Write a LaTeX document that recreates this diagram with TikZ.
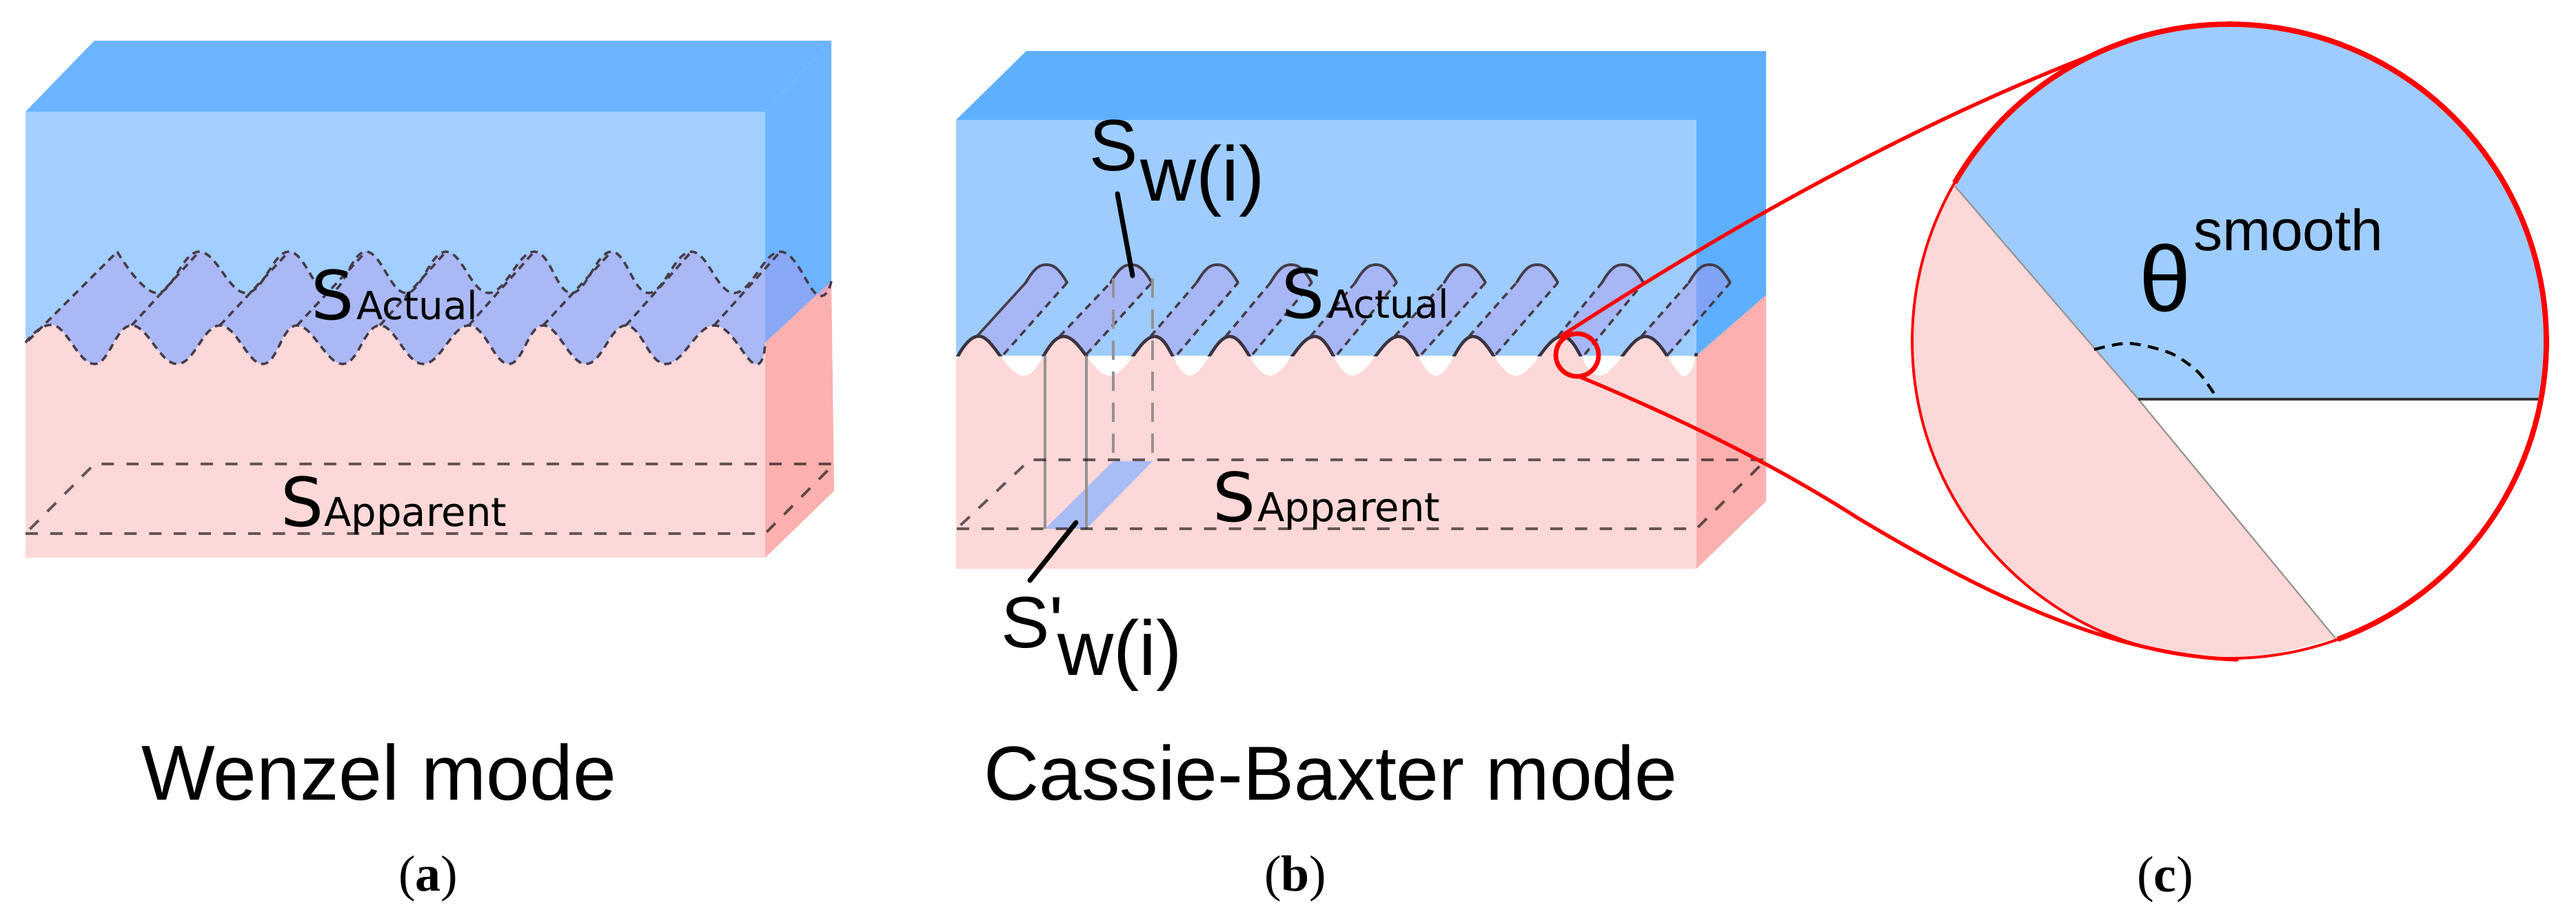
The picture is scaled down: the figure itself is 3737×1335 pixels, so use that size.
\documentclass[tikz,border=0pt]{standalone}
\usepackage{fontspec}
\setmainfont{Liberation Sans}
\newfontfamily\djv{DejaVu Sans}
\newfontfamily\tms{Liberation Serif}
\newfontfamily\plainsans{Liberation Sans}
\definecolor{frontA}{RGB}{162,207,255}
\definecolor{topA}{RGB}{108,180,255}
\definecolor{frontB}{RGB}{158,204,255}
\definecolor{topB}{RGB}{94,176,255}
\definecolor{pinkF}{RGB}{253,216,216}
\definecolor{pinkS}{RGB}{252,176,176}
\definecolor{bandC}{RGB}{184,145,228}
\definecolor{footC}{RGB}{168,188,245}
\definecolor{dashC}{RGB}{70,60,75}
\definecolor{guide}{RGB}{150,145,145}
\tikzset{
  x=0.01cm,y=-0.01cm,
  lab/.style={inner sep=0pt,outer sep=0pt,anchor=base west,text=black},
  planeD/.style={line width=1.1pt,draw=black,draw opacity=.6,dash pattern=on 5.1pt off 5.1pt},
  waveD/.style={line width=1pt,draw=dashC,dash pattern=on 3pt off 2.2pt},
  band/.style={fill=bandC,fill opacity=.37},
  redl/.style={line width=1.5pt,draw=red,line cap=round},
  leader/.style={line width=2pt,draw=black,line cap=round},
  guideS/.style={line width=1pt,draw=guide},
  guideD/.style={line width=1pt,draw=guide,dash pattern=on 8pt off 4.8pt},
}
\begin{document}
\begin{tikzpicture}
\useasboundingbox (0,0) rectangle (3737,1335);
% ---------- panel a
\fill[topA] (37,162) -- (137,59) -- (1206,59) -- (1110,162) -- cycle;
\fill[topA] (1110,162) -- (1206,59) -- (1206,408) -- (1110,497) -- cycle;
\fill[pinkS] (1110,497) -- (1206,408) -- (1210,712) -- (1110,809) -- cycle;
\fill[frontA] (37,162) rectangle (1110,535);
\fill[band] (37,497) -- plot[smooth,tension=.7] coordinates {(170,365)(228,425)(289,365)(357,425)(419,365)(477,425)(531,365)(589,425)(647,365)(709,425)(775,365)(829,425)(887,365)(941,425)(1003,365)(1065,425)(1132,365)(1186,428)(1206,408)} -- (1110,497) -- (1110,535) -- (37,535) -- cycle;
\fill[pinkF] plot[smooth,tension=.7] coordinates {(37,497)(79,472)(137,528)(191,472)(257,528)(319,472)(381,528)(431,472)(497,528)(551,472)(614,528)(680,472)(738,528)(788,472)(850,528)(908,472)(966,528)(1036,472)(1095,528)(1110,497)} -- (1110,809) -- (37,809) -- cycle;
\draw[waveD] plot[smooth,tension=.7] coordinates {(37,497)(79,472)(137,528)(191,472)(257,528)(319,472)(381,528)(431,472)(497,528)(551,472)(614,528)(680,472)(738,528)(788,472)(850,528)(908,472)(966,528)(1036,472)(1095,528)(1110,497)};
\draw[waveD] plot[smooth,tension=.7] coordinates {(170,365)(228,425)(289,365)(357,425)(419,365)(477,425)(531,365)(589,425)(647,365)(709,425)(775,365)(829,425)(887,365)(941,425)(1003,365)(1065,425)(1132,365)(1186,428)(1206,408)};
\draw[waveD] (41,494) -- (170,365);
\foreach \p/\q in {191/289,319/419,431/531,551/647,680/775,788/887,908/1003,1036/1132}
  \draw[waveD] (\p,472) -- (\q,365);
\draw[planeD] (37,774) -- (1110,774) -- (1210,673) -- (137,673) -- cycle;
\node[lab] (sAa) at (451,463) {\djv\fontsize{27.9}{30}\selectfont S};
\node[lab] (sAb) at (517,463) {\djv\fontsize{16}{18}\selectfont Actual};
\node[lab] (sPa) at (407,763) {\djv\fontsize{27.9}{30}\selectfont S};
\node[lab] (sPb) at (470,763) {\djv\fontsize{16.4}{18}\selectfont Apparent};
\node[lab] (tA) at (205,1160) {\fontsize{32.15}{34}\selectfont Wenzel mode};
\node[lab] (capA) at (578,1292) {\tms\fontsize{21}{23}\selectfont (\textbf{a})};
% ---------- panel b
\fill[topB] (1387,174) -- (1489,74) -- (2562,74) -- (2562,428) -- (2461,516) -- (2461,174) -- cycle;
\fill[pinkS] (2461,516) -- (2562,428) -- (2562,727) -- (2461,825) -- cycle;
\fill[frontB] (1387,174) rectangle (2461,516);
\foreach \p/\q in {1423/1518,1543/1641,1675/1766,1784/1873,1907/1996,2029/2125,2137/2230,2266/2354,2387/2480}{
  \fill[band] (\p-6,488) -- (\q-30,410) .. controls (\q-17,388) and (\q-10,384) .. (\q,384) .. controls (\q+10,384) and (\q+17,388) .. (\q+30,410) -- (\p+33,516) -- (\p-6,516) -- cycle;
  \draw[line width=1.1pt,draw=dashC,line cap=round] (\q-30,410) .. controls (\q-17,388) and (\q-10,384) .. (\q,384) .. controls (\q+10,384) and (\q+17,388) .. (\q+30,410);
  \draw[waveD] (\p+33,514) -- (\q+30,410);
}
\foreach \p/\q in {1543/1641,1675/1766,1784/1873,1907/1996,2029/2125,2137/2230,2266/2354,2387/2480}
  \draw[waveD] (\p-6,488) -- (\q-30,410);
\draw[line width=1pt,draw=dashC] (1417,488) -- (1488,410);
\fill[pinkF] plot[smooth,tension=.7] coordinates {(1387,522)(1423,488)(1485,545)(1543,488)(1610,545)(1675,488)(1726,545)(1784,488)(1842,545)(1907,488)(1962,545)(2029,488)(2083,545)(2137,488)(2199,545)(2266,488)(2320,545)(2387,488)(2441,545)(2461,512)} -- (2461,825) -- (1387,825) -- cycle;
\begin{scope}
  \clip (1380,470) rectangle (2470,516);
  \draw[line width=1.3pt,draw=dashC!85!black] plot[smooth,tension=.7] coordinates {(1387,522)(1423,488)(1485,545)(1543,488)(1610,545)(1675,488)(1726,545)(1784,488)(1842,545)(1907,488)(1962,545)(2029,488)(2083,545)(2137,488)(2199,545)(2266,488)(2320,545)(2387,488)(2441,545)(2461,512)};
\end{scope}
\fill[footC] (1516,767) -- (1576,767) -- (1672,669) -- (1615,669) -- cycle;
\draw[guideS] (1516,516) -- (1516,767);
\draw[guideS] (1576,516) -- (1576,767);
\draw[guideD] (1615,404) -- (1615,669);
\draw[guideD] (1672,404) -- (1672,669);
\draw[planeD] (1388,767) -- (2461,767) -- (2562,667) -- (1494,667) -- cycle;
\node[lab] (sBa) at (1859,461) {\djv\fontsize{27.9}{30}\selectfont S};
\node[lab] (sBb) at (1926,461) {\djv\fontsize{16}{18}\selectfont Actual};
\node[lab] (sCa) at (1759,756) {\djv\fontsize{27.9}{30}\selectfont S};
\node[lab] (sCb) at (1824,756) {\djv\fontsize{16.4}{18}\selectfont Apparent};
\node[lab] (wa) at (1580,247) {\fontsize{30}{32}\selectfont S};
\node[lab] (wb) at (1654,291) {\fontsize{32}{34}\selectfont w(i)};
\node[lab] (va) at (1452,939) {\plainsans\fontsize{30}{32}\selectfont S'};
\node[lab] (vb) at (1534,979) {\fontsize{32}{34}\selectfont w(i)};
\coordinate (l1a) at (1621,281); \coordinate (l1b) at (1643,400);
\coordinate (l2a) at (1561,758); \coordinate (l2b) at (1494,842);
\draw[leader] (l1a) -- (l1b);
\draw[leader] (l2a) -- (l2b);
\node[lab] (tB) at (1427,1160) {\fontsize{31.6}{34}\selectfont Cassie-Baxter mode};
\node[lab] (capB) at (1834,1292) {\tms\fontsize{21}{23}\selectfont (\textbf{b})};
% ---------- panel c
\coordinate (cc) at (3234,495);
\coordinate (apex) at (3102,579);
\begin{scope}
  \clip (cc) circle[radius=460];
  \fill[frontB] (2836,270) -- (apex) -- (3720,579) -- (3720,0) -- (2700,0) -- cycle;
  \fill[pinkF] (2836,270) -- (apex) -- (3388,926) -- (3100,1000) -- (2700,1000) -- (2700,100) -- cycle;
  \draw[line width=.6pt,draw=guide] (2836,270) -- (apex) -- (3388,926);
  \draw[line width=1.4pt,draw=black!80] (apex) -- (3720,579);
\end{scope}
\draw[line width=1.2pt,draw=black,dash pattern=on 4.5pt off 3pt] plot[smooth] coordinates {(3038,507)(3088,498)(3148,512)(3189,540)(3217,579)};
\draw[line width=1.1pt,draw=red] (cc) circle[radius=460];
\draw[line width=2.2pt,draw=red] plot[domain=-70:150,samples=110] ({3234+460*cos(\x)},{495-460*sin(\x)});
\node[lab] (th) at (3103,451) {\fontsize{38.4}{40}\selectfont θ};
\node[lab] (sm) at (3182,363) {\fontsize{23.9}{26}\selectfont smooth};
\node[lab] (capC) at (3100,1293) {\tms\fontsize{21}{23}\selectfont (\textbf{c})};
% zoom indicator
\coordinate (zc) at (2288,515);
\coordinate (ztA) at (2264,488);
\coordinate (ztB) at (3079,63);
\coordinate (zbA) at (2293,547);
\coordinate (zbM) at (2696,752);
\coordinate (zbB) at (3245,957);
\draw[line width=1.9pt,draw=red] (zc) circle[radius=31];
\draw[redl] (ztA) .. controls (2536,311) and (2807,164) .. (ztB);
\draw[redl] (zbA) .. controls (2420,600) and (2560,665) .. (zbM) .. controls (2880,862) and (3060,950) .. (zbB);
\end{tikzpicture}
\end{document}
